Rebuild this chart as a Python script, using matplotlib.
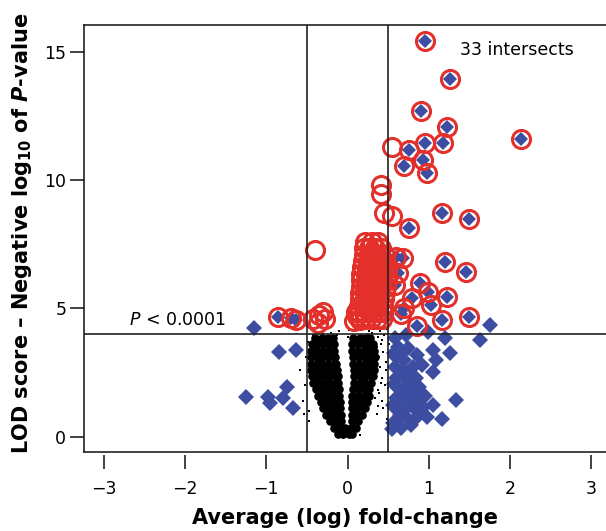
import matplotlib
matplotlib.use("Agg")
import matplotlib.pyplot as plt

plt.rcParams["font.family"] = ["DejaVu Sans"]
plt.rcParams["mathtext.fontset"] = "custom"
plt.rcParams["mathtext.rm"] = "DejaVu Sans"
plt.rcParams["mathtext.it"] = "DejaVu Sans:italic"
plt.rcParams["mathtext.bf"] = "DejaVu Sans:bold"
plt.rcParams["mathtext.bfit"] = "DejaVu Sans:bold:italic"

# thresholds
fc_cut = 0.5
lod_cut = 4.0

# non-significant genes (black cloud), read row by row
black_row_y = [0.12, 0.35, 0.6, 0.85, 1.1, 1.35, 1.6, 1.85, 2.1, 2.35,
               2.6, 2.85, 3.1, 3.35, 3.6, 3.85]
black_row_x = [
    [-0.12, -0.05, 0.02, 0.06],
    [-0.17, -0.10, -0.03, 0.04, 0.10],
    [-0.22, -0.15, -0.08, 0.05, 0.13],
    [-0.26, -0.19, -0.12, -0.08, 0.05, 0.12, 0.18],
    [-0.30, -0.23, -0.16, -0.09, 0.05, 0.12, 0.19, 0.21],
    [-0.33, -0.26, -0.19, -0.12, -0.09, 0.05, 0.12, 0.19, 0.24],
    [-0.36, -0.29, -0.22, -0.15, -0.10, 0.06, 0.13, 0.20, 0.26],
    [-0.39, -0.32, -0.25, -0.18, -0.11, 0.07, 0.14, 0.21, 0.27],
    [-0.42, -0.35, -0.28, -0.21, -0.14, -0.12, 0.08, 0.15, 0.22, 0.29],
    [-0.44, -0.37, -0.30, -0.23, -0.16, -0.12, 0.08, 0.15, 0.22, 0.29, 0.31],
    [-0.45, -0.38, -0.31, -0.24, -0.17, -0.13, 0.08, 0.15, 0.22, 0.29, 0.32],
    [-0.45, -0.38, -0.31, -0.24, -0.17, -0.14, 0.07, 0.14, 0.21, 0.28, 0.33],
    [-0.45, -0.38, -0.31, -0.24, -0.17, -0.15, 0.07, 0.14, 0.21, 0.28, 0.34],
    [-0.45, -0.38, -0.31, -0.24, -0.17, 0.06, 0.13, 0.20, 0.27, 0.33],
    [-0.44, -0.37, -0.30, -0.23, -0.17, 0.06, 0.13, 0.20, 0.26, 0.31],
    [-0.40, -0.32, -0.24, -0.18, 0.07, 0.15, 0.22, 0.28],
]
# sparse black dots around the cloud
speck_x = [-0.55, -0.52, -0.58, -0.51, -0.53, -0.49, 0.38, 0.41, 0.44, 0.47,
           0.40, 0.43, 0.46, 0.39, 0.42, 0.45, 0.37, 0.48, 0.36, 0.40,
           -0.48, -0.47, 0.30, 0.33, 0.25, -0.20, -0.30, 0.15, 0.44, 0.49,
           0.36, 0.39, 0.35, 0.41, 0.38, 0.34, -0.10, -0.13, 0.00, 0.02,
           -0.05, 0.22, 0.26, -0.38, -0.43, 0.45, 0.51, 0.47, 0.43, 0.50]
speck_y = [1.4, 2.0, 2.6, 3.1, 0.9, 3.7, 3.9, 3.6, 3.3, 2.9,
           2.7, 2.3, 2.0, 1.7, 1.4, 3.95, 1.2, 4.2, 0.9, 4.1,
           1.0, 0.6, 4.05, 4.2, 4.0, 4.05, 4.0, 0.05, 1.1, 0.7,
           3.5, 3.1, 2.5, 2.1, 1.8, 1.5, 4.1, 3.95, 3.9, 4.15,
           -0.05, 4.25, 4.1, 4.05, 3.95, 4.3, 3.6, 2.6, 3.75, 1.9]

# fold-change only (blue diamonds)
fc_x = [-1.15, -0.84, -0.64, -1.25, -0.98, -0.74, -0.96, -0.80, -0.67,
        1.75, 1.63, 0.99, 1.20, 1.26, 1.05, 1.05, 1.09, 1.34, 1.05, 0.93,
        0.58, 0.72, 0.62, 0.75, 0.60, 0.70, 0.85, 0.58, 0.68, 0.80, 0.92,
        0.60, 0.72, 0.84, 0.62, 0.74, 0.88, 0.60, 0.70, 0.82, 0.95, 0.58,
        0.68, 0.80, 0.90, 0.62, 0.74, 0.86, 0.66, 0.78, 0.98, 0.55, 1.16,
        0.57, 0.66, 0.78, 0.57, 0.66, 0.56, 0.64, 0.56, 0.76, 0.86]
fc_y = [4.25, 3.31, 3.38, 1.56, 1.56, 1.95, 1.30, 1.50, 1.11,
        4.35, 3.77, 4.09, 3.84, 3.25, 3.38, 2.53, 2.99, 1.43, 1.24, 1.17,
        3.85, 3.95, 3.50, 3.45, 3.10, 3.00, 3.20, 2.70, 2.60, 2.70, 2.80,
        2.30, 2.20, 2.30, 1.90, 1.85, 1.95, 1.50, 1.40, 1.60, 1.60, 1.10,
        1.00, 1.15, 1.05, 0.65, 0.70, 0.75, 0.35, 0.45, 0.75, 0.30, 0.70,
        3.25, 3.25, 2.45, 2.05, 1.65, 1.25, 0.85, 0.55, 2.00, 1.30]

# LOD only (red circles)
lod_x = [-0.40, 0.55, 0.41, 0.41, 0.45, 0.55,
         -0.42, -0.35, -0.28, -0.36, -0.30, 0.08, 0.12, 0.15, 0.10,
         0.22, 0.30, 0.38,
         0.20, 0.27, 0.34, 0.41,
         0.20, 0.26, 0.33, 0.40, 0.46,
         0.19, 0.25, 0.32, 0.38, 0.45,
         0.18, 0.24, 0.31, 0.37, 0.44, 0.50,
         0.17, 0.23, 0.30, 0.36, 0.43, 0.49,
         0.17, 0.23, 0.29, 0.35, 0.42, 0.48,
         0.16, 0.22, 0.28, 0.34, 0.41, 0.47,
         0.15, 0.21, 0.27, 0.33, 0.40, 0.46,
         0.15, 0.21, 0.27, 0.33, 0.39, 0.45,
         0.14, 0.20, 0.26, 0.32, 0.38, 0.44,
         0.14, 0.20, 0.26, 0.32, 0.38, 0.44,
         0.15, 0.22, 0.29, 0.36, 0.42]
lod_y = [7.28, 11.31, 9.80, 9.48, 8.72, 8.62,
         4.60, 4.75, 4.60, 4.45, 4.85, 4.50, 4.70, 4.55, 4.85,
         7.60, 7.60, 7.60,
         7.35, 7.35, 7.35, 7.35,
         7.10, 7.10, 7.10, 7.10, 7.10,
         6.85, 6.85, 6.85, 6.85, 6.85,
         6.60, 6.60, 6.60, 6.60, 6.60, 6.60,
         6.35, 6.35, 6.35, 6.35, 6.35, 6.35,
         6.10, 6.10, 6.10, 6.10, 6.10, 6.10,
         5.85, 5.85, 5.85, 5.85, 5.85, 5.85,
         5.60, 5.60, 5.60, 5.60, 5.60, 5.60,
         5.35, 5.35, 5.35, 5.35, 5.35, 5.35,
         5.10, 5.10, 5.10, 5.10, 5.10, 5.10,
         4.85, 4.85, 4.85, 4.85, 4.85, 4.85,
         4.60, 4.60, 4.60, 4.60, 4.60]

# both criteria (33 intersects)
both_x = [0.95, 1.26, 0.90, 1.22, 1.18, 0.95, 2.14, 0.76, 0.69, 0.93, 0.98,
          1.16, 1.50, 0.76, 1.20, 1.46, 0.68, 0.99, 1.22, 0.79, 1.03, 1.16,
          1.50, 0.70, 0.89, 0.62, 0.58, 0.60, 0.66, -0.86, -0.70, -0.64, 0.85]
both_y = [15.42, 13.95, 12.71, 12.06, 11.44, 11.44, 11.61, 11.18, 10.55,
          10.79, 10.27, 8.71, 8.49, 8.12, 6.82, 6.43, 6.96, 5.65, 5.46, 5.41,
          5.13, 4.55, 4.68, 5.02, 5.99, 6.40, 5.90, 7.02, 4.80, 4.67, 4.62,
          4.55, 4.30]

blue = "#3C4DA2"
red = "#E3302B"

fig = plt.figure(figsize=(6.06, 5.31), dpi=100)
ax = fig.add_axes([84.3 / 606, 1 - 452.3 / 531, (606 - 84.3) / 606, (452.3 - 25) / 531])

bx = [x for row in black_row_x for x in row]
by = [y for y, row in zip(black_row_y, black_row_x) for _ in row]
ax.plot(bx, by, "o", color="black", ms=6.2, mew=0, zorder=2)
ax.plot(speck_x, speck_y, "s", color="black", ms=1.8, mew=0, zorder=2)

ax.plot(fc_x, fc_y, "D", color=blue, ms=8.3, mew=0, zorder=3)
ax.plot(both_x, both_y, "D", color=blue, ms=7.2, mew=0, zorder=3)
ax.plot(lod_x, lod_y, "o", mfc="none", mec=red, ms=13, mew=2.2, zorder=4)
ax.plot(both_x, both_y, "o", mfc="none", mec=red, ms=13, mew=2.2, zorder=4)

ax.axvline(-fc_cut, color="#222222", lw=1.2, zorder=5)
ax.axvline(fc_cut, color="#222222", lw=1.2, zorder=5)
ax.axhline(lod_cut, color="#222222", lw=1.2, zorder=5)

xmin, xmax = -3.24, 3.181
ymin, ymax = -0.61, 16.05
ax.set_xlim(xmin, xmax)
ax.set_ylim(ymin, ymax)

ax.spines["right"].set_visible(False)
for s in ["left", "top"]:
    ax.spines[s].set_linewidth(1.2)
    ax.spines[s].set_color("#222222")
ax.spines["bottom"].set_position(("outward", 2))
ax.spines["bottom"].set_color("none")
ax.plot([xmin, xmax], [ymin, ymin], color="#222222", lw=1.2, clip_on=False, zorder=6)

ax.set_xticks([-3, -2, -1, 0, 1, 2, 3])
ax.set_xticklabels(["\u22123", "\u22122", "\u22121", "0", "1", "2", "3"])
ax.set_yticks([0, 5, 10, 15])
ax.tick_params(axis="x", length=10, width=1.2, color="#222222", pad=8, labelsize=12.5)
ax.tick_params(axis="y", length=10, width=1.2, color="#222222", pad=3, labelsize=12.5)

ax.text(-2.69, 4.2, "$\\mathit{P}$ < 0.0001", fontsize=12.5, va="bottom", ha="left")
ax.text(1.39, 15.08, "33 intersects", fontsize=12.5, va="center", ha="left")

fig.text(345 / 606, 1 - 518 / 531, "Average (log) fold-change",
         fontsize=15, fontweight="bold", ha="center", va="center")
fig.text(22 / 606, 1 - 233 / 531,
         "LOD score \u2013 Negative log$_{\\mathbf{10}}$ of $\\mathbfit{P}$-value",
         fontsize=15, fontweight="bold", rotation=90, ha="center", va="center")

fig.savefig("out.png", dpi=100)
